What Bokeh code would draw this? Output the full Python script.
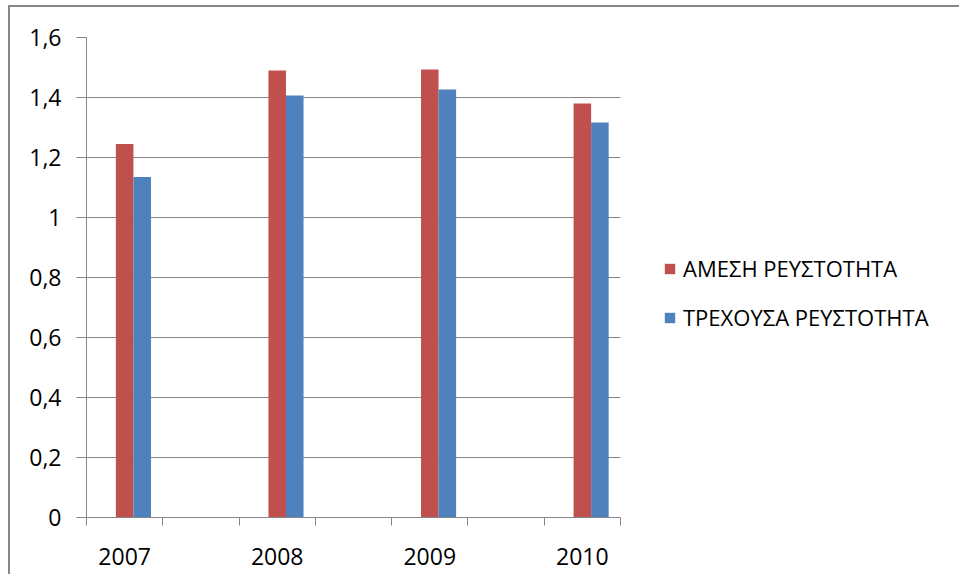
from bokeh.plotting import figure
from bokeh.models import (FactorRange, Range1d, LinearAxis, CategoricalAxis, FixedTicker,
                          ColumnDataSource, Legend, LegendItem, CustomJSTickFormatter)
from bokeh.transform import dodge
from bokeh.embed import file_html
from bokeh.resources import INLINE

# ---- data ----
years = ["2007", "2008", "2009", "2010"]
amesi = [1.245, 1.490, 1.493, 1.380]       # ΑΜΕΣΗ ΡΕΥΣΤΟΤΗΤΑ
trexousa = [1.135, 1.407, 1.427, 1.317]    # ΤΡΕΧΟΥΣΑ ΡΕΥΣΤΟΤΗΤΑ
series_names = ["ΑΜΕΣΗ ΡΕΥΣΤΟΤΗΤΑ", "ΤΡΕΧΟΥΣΑ ΡΕΥΣΤΟΤΗΤΑ"]
y_ticks = [0, 0.2, 0.4, 0.6, 0.8, 1.0, 1.2, 1.4, 1.6]
y_tick_labels = ["0", "0,2", "0,4", "0,6", "0,8", "1", "1,2", "1,4", "1,6"]

# empty categories between the years (as in the original sheet)
x_factors = []
for i, yr in enumerate(years):
    x_factors.append(yr)
    if i < len(years) - 1:
        x_factors.append(" " * (i + 1))

RED = "#C0504D"
BLUE = "#4F81BD"
GRID = "#868686"
FONT = "Open Sans"

src = ColumnDataSource(dict(x=years, amesi=amesi, trexousa=trexousa))

p = figure(frame_width=534, frame_height=480,
           x_range=FactorRange(factors=x_factors, range_padding=0),
           y_range=Range1d(y_ticks[0], y_ticks[-1]),
           output_backend="svg", toolbar_location=None,
           x_axis_location=None, y_axis_location="left",
           min_border_left=76, min_border_top=30, min_border_bottom=55, min_border_right=0)
p.styles = {"border-top": "2px solid #868686", "border-left": "2px solid #868686",
            "margin-left": "8px", "margin-top": "5px"}
p.outline_line_color = None
p.background_fill_color = "white"
p.border_fill_color = "white"

# y axis
ya = p.yaxis[0]
ya.ticker = FixedTicker(ticks=y_ticks)
ya.formatter = CustomJSTickFormatter(args=dict(yt=y_ticks, yl=y_tick_labels), code="""
let best = 0;
for (let i = 0; i < yt.length; i++) {
  if (Math.abs(yt[i] - tick) < Math.abs(yt[best] - tick)) best = i;
}
return yl[best];
""")
ya.axis_line_color = GRID
ya.major_tick_line_color = GRID
ya.major_tick_out = 10
ya.major_tick_in = 0
ya.minor_tick_line_color = None
ya.major_label_text_font = FONT
ya.major_label_text_font_size = "23px"
ya.major_label_text_color = "black"
ya.major_label_standoff = 15

p.ygrid.grid_line_color = GRID
p.ygrid.ticker = FixedTicker(ticks=y_ticks)
p.xgrid.visible = False

# x axis: tick marks at category boundaries (synthetic coordinates of the factor range)
tick_axis = LinearAxis(ticker=FixedTicker(ticks=list(range(len(x_factors) + 1))),
                       formatter=CustomJSTickFormatter(code="return '';"))
tick_axis.axis_line_color = GRID
tick_axis.major_tick_line_color = GRID
tick_axis.major_tick_out = 8
tick_axis.major_tick_in = 0
tick_axis.minor_tick_line_color = None
tick_axis.major_label_text_font_size = "1px"
tick_axis.major_label_standoff = 0
p.add_layout(tick_axis, "below")

label_axis = CategoricalAxis()
label_axis.axis_line_color = None
label_axis.major_tick_line_color = None
label_axis.major_tick_out = 0
label_axis.major_tick_in = 0
label_axis.major_label_text_font = FONT
label_axis.major_label_text_font_size = "23px"
label_axis.major_label_text_color = "black"
label_axis.major_label_standoff = 14
p.add_layout(label_axis, "below")

# bars
BW = 0.23
r1 = p.vbar(x=dodge("x", 0, range=p.x_range), top="amesi", width=BW, source=src,
            fill_color=RED, line_color=None)
r2 = p.vbar(x=dodge("x", BW, range=p.x_range), top="trexousa", width=BW, source=src,
            fill_color=BLUE, line_color=None)

legend = Legend(items=[LegendItem(label=series_names[0], renderers=[r1]),
                       LegendItem(label=series_names[1], renderers=[r2])],
                location=(43, 185), orientation="vertical",
                border_line_color=None, background_fill_alpha=0,
                padding=0, margin=0, glyph_width=13, glyph_height=13,
                label_standoff=7, spacing=19, label_height=20,
                label_text_font=FONT, label_text_font_size="22px", label_text_color="black")
p.add_layout(legend, "right")

open("out.html", "w").write(file_html(p, INLINE))
